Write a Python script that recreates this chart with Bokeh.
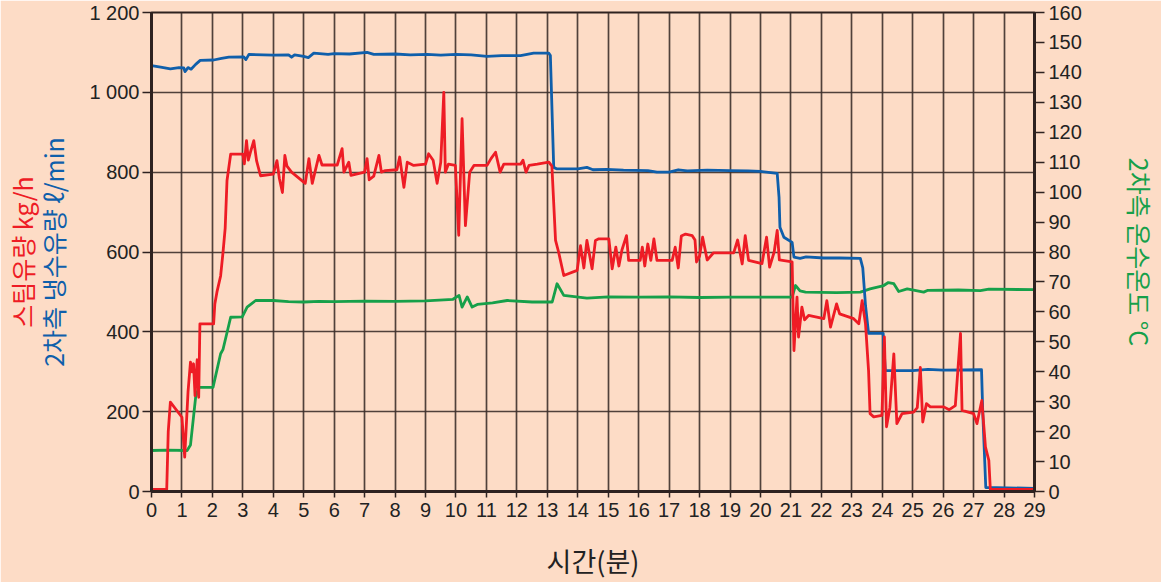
from bokeh.plotting import figure
from bokeh.models import Range1d, LinearAxis, FixedTicker
from bokeh.embed import file_html
from bokeh.resources import INLINE

# ---- data ----
x_ticks = list(range(0, 30))
left_ticks = [0, 200, 400, 600, 800, 1000, 1200]
right_ticks = list(range(0, 170, 10))

# steam flow kg/h (left axis)
steam = [(0, 5), (0.5, 5), (0.55, 150), (0.62, 224), (1.0, 186), (1.09, 86), (1.2, 250), (1.28, 324),
         (1.33, 300), (1.38, 320), (1.43, 240), (1.5, 330), (1.55, 236), (1.59, 420), (2.04, 420),
         (2.08, 470), (2.15, 500), (2.27, 540), (2.35, 600), (2.42, 660), (2.48, 779), (2.6, 845),
         (3.0, 845), (3.05, 821), (3.12, 879), (3.18, 830), (3.25, 850), (3.36, 879), (3.45, 829),
         (3.58, 791), (4.0, 795), (4.12, 829), (4.2, 784), (4.3, 749), (4.38, 842), (4.45, 815),
         (4.6, 800), (5.05, 772), (5.17, 834), (5.28, 772), (5.5, 842), (5.6, 818), (6.1, 818),
         (6.26, 859), (6.32, 800), (6.48, 825), (6.55, 792), (7.0, 800), (7.08, 834), (7.15, 781),
         (7.3, 790), (7.47, 842), (7.55, 800), (7.68, 804), (8.06, 806), (8.15, 838), (8.29, 762),
         (8.4, 825), (8.61, 817), (9.0, 820), (9.1, 846), (9.25, 830), (9.38, 772), (9.5, 825),
         (9.6, 1000), (9.65, 800), (9.75, 820), (9.98, 817), (10.09, 642), (10.2, 934), (10.31, 666),
         (10.45, 800), (10.59, 817), (11.02, 817), (11.15, 834), (11.3, 850), (11.45, 800),
         (11.57, 820), (12.12, 820), (12.2, 830), (12.3, 800), (12.4, 817), (12.67, 820),
         (13.05, 825), (13.15, 815), (13.27, 629), (13.37, 600), (13.54, 541), (13.98, 554),
         (14.09, 616), (14.2, 560), (14.3, 629), (14.47, 558), (14.58, 629), (14.69, 633),
         (15.02, 633), (15.13, 558), (15.25, 612), (15.35, 565), (15.45, 605), (15.6, 641),
         (15.67, 579), (16.05, 579), (16.12, 612), (16.2, 565), (16.3, 620), (16.4, 579),
         (16.5, 633), (16.6, 579), (17.1, 579), (17.2, 612), (17.3, 560), (17.4, 640), (17.54, 645),
         (17.76, 641), (17.85, 630), (17.9, 575), (18.0, 590), (18.1, 637), (18.25, 580),
         (18.46, 598), (19.12, 598), (19.25, 630), (19.4, 570), (19.5, 641), (19.61, 579),
         (20.05, 571), (20.2, 637), (20.3, 562), (20.45, 600), (20.55, 654), (20.62, 580),
         (21.04, 575), (21.1, 353), (21.2, 487), (21.25, 387), (21.36, 462), (21.45, 430),
         (21.58, 441), (22.08, 433), (22.18, 478), (22.3, 412), (22.5, 470), (22.6, 445),
         (23.06, 433), (23.23, 420), (23.34, 478), (23.45, 420), (23.55, 303), (23.6, 195),
         (23.72, 187), (23.99, 191), (24.07, 387), (24.14, 162), (24.25, 210), (24.38, 345),
         (24.48, 170), (24.65, 195), (25.03, 199), (25.15, 210), (25.25, 311), (25.33, 174),
         (25.45, 220), (25.58, 212), (26.02, 212), (26.2, 205), (26.4, 215), (26.57, 396),
         (26.62, 203), (27.0, 195), (27.11, 170), (27.27, 228), (27.39, 111), (27.5, 78),
         (27.55, 5), (29.0, 5)]

# secondary cold water flow l/min (left axis)
water = [(0, 1067), (0.3, 1063), (0.62, 1059), (0.9, 1062), (1.06, 1061), (1.1, 1052), (1.2, 1062),
         (1.3, 1058), (1.45, 1070), (1.6, 1080), (2.04, 1081), (2.3, 1085), (2.54, 1088),
         (3.03, 1089), (3.1, 1082), (3.2, 1095), (4.0, 1093), (4.5, 1094), (4.6, 1088), (4.7, 1094),
         (5.0, 1090), (5.15, 1087), (5.33, 1098), (5.8, 1095), (6.0, 1097), (6.5, 1096),
         (7.08, 1100), (7.3, 1095), (8.0, 1096), (8.5, 1094), (9.05, 1095), (9.5, 1093),
         (10.0, 1095), (10.5, 1094), (11.02, 1090), (11.5, 1092), (12.12, 1092), (12.55, 1098),
         (13.05, 1098), (13.1, 1092), (13.21, 812), (13.32, 808), (14.0, 808), (14.3, 812),
         (14.5, 806), (14.96, 807), (15.5, 805), (16.3, 804), (16.6, 800), (17.0, 800),
         (17.3, 806), (17.6, 803), (18.25, 805), (19.0, 804), (19.6, 803), (20.0, 802),
         (20.55, 797), (20.61, 737), (20.64, 662), (20.77, 637), (21.04, 624), (21.1, 587),
         (21.3, 584), (21.5, 588), (22.08, 585), (22.6, 585), (23.28, 584), (23.36, 560),
         (23.45, 466), (23.55, 396), (24.03, 396), (24.1, 303), (25.0, 303), (25.5, 306),
         (26.0, 304), (27.26, 305), (27.3, 200), (27.4, 10), (29.0, 8)]

# secondary hot water temperature C (right axis)
temp = [(0, 13.7), (0.5, 13.8), (1.17, 13.7), (1.28, 15.5), (1.45, 31.5), (1.55, 34.8), (2.02, 34.8),
        (2.27, 46), (2.35, 47.5), (2.6, 58.2), (2.98, 58.3), (3.14, 61.6), (3.42, 63.8), (4.0, 63.8),
        (4.5, 63.4), (5.0, 63.3), (5.5, 63.5), (6.0, 63.4), (7.0, 63.6), (8.0, 63.5), (9.0, 63.7),
        (9.9, 64.2), (10.1, 65.5), (10.2, 61.6), (10.37, 65), (10.53, 61.6), (10.7, 62.5),
        (11.2, 63.0), (11.68, 63.8), (12.5, 63.3), (13.16, 63.3), (13.32, 69.4), (13.54, 65.5),
        (14.3, 64.6), (15, 65), (16, 64.9), (17, 65), (18, 64.8), (19, 64.9), (20, 64.9),
        (21.04, 64.9), (21.15, 68.8), (21.3, 67), (21.48, 66.6), (22.5, 66.4), (23.28, 66.6),
        (23.6, 67.7), (24.05, 68.8), (24.2, 69.8), (24.38, 69.4), (24.54, 66.8), (24.82, 67.7),
        (25.36, 66.6), (25.5, 67.2), (26.5, 67.3), (27.22, 67.1), (27.5, 67.6), (29, 67.4)]

# ---- styles ----
BG = "#fddcc6"
DARK = "#2e2220"
GRID = "#3d302b"
RED = "#ee1c25"
BLUE = "#0f5fab"
GREEN = "#16a04a"
NUM_FONT = "Liberation Sans"
KR_FONT = "Noto Sans CJK KR"

p = figure(width=1161, height=582, output_backend="svg", toolbar_location=None,
           x_range=Range1d(0, 29), y_range=Range1d(0, 1200),
           min_border_left=151, min_border_right=127, min_border_top=12, min_border_bottom=91,
           background_fill_color=BG, border_fill_color=BG)
p.extra_y_ranges = {"temp": Range1d(0, 160)}

p.outline_line_color = DARK
p.outline_line_width = 2

# grid
p.xgrid.ticker = FixedTicker(ticks=x_ticks)
p.ygrid.ticker = FixedTicker(ticks=left_ticks)
for g in (p.xgrid[0], p.ygrid[0]):
    g.grid_line_color = GRID
    g.grid_line_width = 1.7
    g.grid_line_alpha = 0.9


def style_axis(ax, tick_out):
    ax.axis_line_color = DARK
    ax.axis_line_width = 3
    ax.major_tick_out = tick_out
    ax.major_tick_in = 0
    ax.major_tick_line_color = DARK
    ax.major_tick_line_width = 1.5
    ax.minor_tick_line_color = None
    ax.major_label_text_font = NUM_FONT
    ax.major_label_text_font_size = "20px"
    ax.major_label_text_color = "#222222"
    ax.axis_label_text_font = KR_FONT
    ax.axis_label_text_font_style = "normal"


# x axis
xa = p.xaxis[0]
xa.ticker = FixedTicker(ticks=x_ticks)
style_axis(xa, 6)
xa.major_label_standoff = 5
xa.axis_label = "시간(분)"
xa.axis_label_text_font_size = "27px"
xa.axis_label_text_color = "#222222"
xa.axis_label_standoff = 21

# left axis (blue title next to the numbers)
ya = p.yaxis[0]
ya.ticker = FixedTicker(ticks=left_ticks)
ya.major_label_overrides = {1000: "1 000", 1200: "1 200"}
style_axis(ya, 9)
ya.major_label_standoff = 3
ya.axis_label = "2차측 냉수유량 ℓ/min"
ya.axis_label_text_font_size = "25px"
ya.axis_label_text_color = BLUE
ya.axis_label_standoff = 15

# outer left axis carrying only the red title
ya2 = LinearAxis(ticker=FixedTicker(ticks=[]))
ya2.axis_line_color = None
ya2.major_tick_line_color = None
ya2.minor_tick_line_color = None
ya2.axis_label = "스팀유량 kg/h"
ya2.axis_label_text_font = KR_FONT
ya2.axis_label_text_font_style = "normal"
ya2.axis_label_text_font_size = "25px"
ya2.axis_label_text_color = RED
ya2.axis_label_standoff = -7
p.add_layout(ya2, "left")

# right axis
ra = LinearAxis(y_range_name="temp", ticker=FixedTicker(ticks=right_ticks))
style_axis(ra, 10)
ra.major_label_standoff = 4
ra.axis_label = "2차측 온수온도 °C"
ra.axis_label_text_font_size = "25px"
ra.axis_label_text_color = GREEN
ra.axis_label_standoff = 37
p.add_layout(ra, "right")

# series
p.line([a for a, b in temp], [b for a, b in temp], y_range_name="temp",
       line_color=GREEN, line_width=2.8, line_join="round")
p.line([a for a, b in water], [b for a, b in water],
       line_color=BLUE, line_width=2.8, line_join="round")
p.line([a for a, b in steam], [b for a, b in steam],
       line_color=RED, line_width=2.8, line_join="round")

open("out.html", "w").write(file_html(p, INLINE))
